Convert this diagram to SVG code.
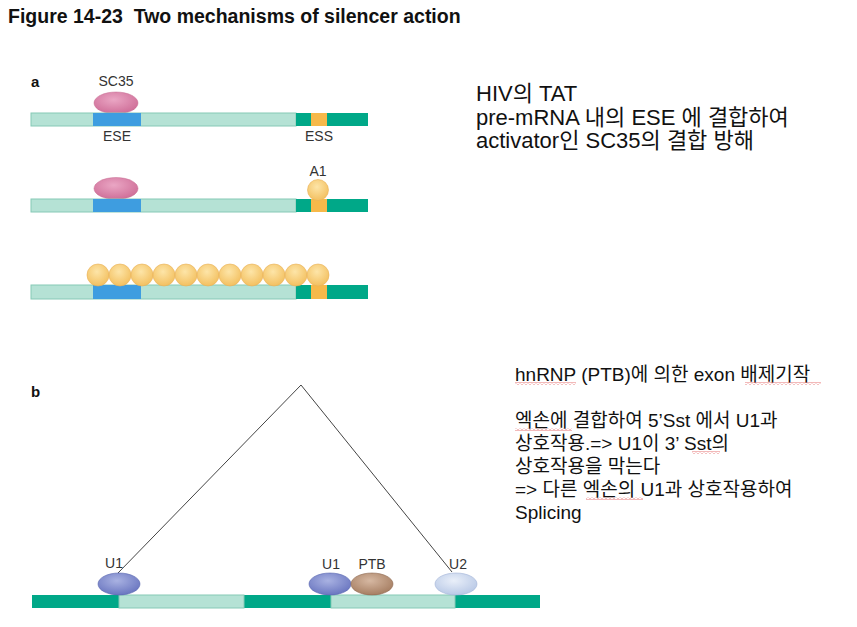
<svg xmlns="http://www.w3.org/2000/svg" width="857" height="627" viewBox="0 0 857 627">
<style>
.lbl{font-family:"Liberation Sans",Arial,sans-serif;font-size:14px;fill:#333;text-anchor:middle}
.pl{font-family:"Liberation Sans",Arial,sans-serif;font-size:15px;font-weight:bold;fill:#111}
.note{font-family:"Liberation Sans","Noto Sans CJK KR",sans-serif;font-size:22px;fill:#111}
.noteb{font-family:"Liberation Sans","Noto Sans CJK KR",sans-serif;font-size:19px;fill:#111}
.lt{fill:#b5e2d5;stroke:#86c9b6;stroke-width:1}
.dk{fill:#00a888}
.bl{fill:#3e9de0}
.or{fill:#f6b94a}
.line{stroke:#444;stroke-width:1;fill:none}
</style>
<defs>
<radialGradient id="gPink" cx="45%" cy="35%" r="65%"><stop offset="0" stop-color="#eaa6c4"/><stop offset="1" stop-color="#cf6e98"/></radialGradient>
<radialGradient id="gYel" cx="45%" cy="35%" r="65%"><stop offset="0" stop-color="#fde5a8"/><stop offset="1" stop-color="#f3c060"/></radialGradient>
<radialGradient id="gU1" cx="45%" cy="35%" r="65%"><stop offset="0" stop-color="#a9b2e2"/><stop offset="1" stop-color="#6a76c0"/></radialGradient>
<radialGradient id="gPTB" cx="45%" cy="35%" r="65%"><stop offset="0" stop-color="#d6b8a2"/><stop offset="1" stop-color="#a67e62"/></radialGradient>
<radialGradient id="gU2" cx="45%" cy="35%" r="65%"><stop offset="0" stop-color="#e9eff9"/><stop offset="1" stop-color="#b9c9e6"/></radialGradient>
<pattern id="wavy" width="4" height="3" patternUnits="userSpaceOnUse"><polyline points="0,2.5 2,0.5 4,2.5" fill="none" stroke="#e05050" stroke-width="0.8"/></pattern>
</defs>
<rect width="857" height="627" fill="#ffffff"/>
<text x="8" y="23" xml:space="preserve" style="font-family:'Liberation Sans',Arial,sans-serif;font-size:19.5px;font-weight:bold;fill:#111">Figure 14-23  Two mechanisms of silencer action</text>

<text class="pl" x="31" y="87">a</text>

<g id="a-row1">
<ellipse cx="116" cy="103" rx="22" ry="11" fill="url(#gPink)" stroke="#c66a90" stroke-width="0.5"/>
<rect class="lt" x="31" y="113" width="265" height="13"/>
<rect class="bl" x="93" y="113" width="48" height="13"/>
<rect class="dk" x="296" y="113" width="72" height="13"/>
<rect class="or" x="311" y="113" width="16" height="13"/>
<text class="lbl" x="116" y="86">SC35</text>
<text class="lbl" x="117" y="141">ESE</text>
<text class="lbl" x="319" y="141">ESS</text>
</g>

<g id="a-row2">
<ellipse cx="116" cy="188.5" rx="22" ry="11" fill="url(#gPink)" stroke="#c66a90" stroke-width="0.5"/>
<rect class="lt" x="31" y="199" width="265" height="13"/>
<rect class="bl" x="93" y="199" width="48" height="13"/>
<rect class="dk" x="296" y="199" width="72" height="13"/>
<rect class="or" x="311" y="199" width="16" height="13"/>
<circle cx="318" cy="190" r="10.5" fill="url(#gYel)" stroke="#eab055" stroke-width="0.6"/>
<text class="lbl" x="318" y="176">A1</text>
</g>

<g id="a-row3">
<rect class="lt" x="31" y="285" width="265" height="14"/>
<rect class="bl" x="93" y="285" width="48" height="14"/>
<rect class="dk" x="296" y="285" width="72" height="14"/>
<rect class="or" x="311" y="285" width="16" height="14"/>
<g fill="url(#gYel)" stroke="#eab055" stroke-width="0.6">
<circle cx="98" cy="275" r="11"/><circle cx="120" cy="275" r="11"/><circle cx="142" cy="275" r="11"/><circle cx="164" cy="275" r="11"/><circle cx="186" cy="275" r="11"/><circle cx="208" cy="275" r="11"/><circle cx="230" cy="275" r="11"/><circle cx="252" cy="275" r="11"/><circle cx="274" cy="275" r="11"/><circle cx="296" cy="275" r="11"/><circle cx="318" cy="275" r="11"/>
</g>
</g>

<g id="note-a">
<text class="note" x="476" y="101">HIV의 TAT</text>
<text class="note" x="476" y="124.5">pre-mRNA 내의 ESE 에 결합하여</text>
<text class="note" x="476" y="148">activator인 SC35의 결합 방해</text>
</g>

<text class="pl" x="31" y="397">b</text>

<g id="connectors">
<polyline class="line" points="118,573 301,385 452,572"/>
</g>

<g id="b-bar">
<rect class="dk" x="32" y="595" width="508" height="13"/>
<rect class="lt" x="119" y="595" width="125" height="13"/>
<rect class="lt" x="331" y="595" width="124" height="13"/>
</g>
<g id="U1-left">
<ellipse cx="119" cy="584" rx="21" ry="11" fill="url(#gU1)" stroke="#5b68b0" stroke-width="0.6"/>
<text class="lbl" x="114" y="568">U1</text>
</g>
<g id="U1-mid">
<ellipse cx="330" cy="584" rx="21" ry="11" fill="url(#gU1)" stroke="#5b68b0" stroke-width="0.6"/>
<text class="lbl" x="331" y="569">U1</text>
</g>
<g id="PTB">
<ellipse cx="372" cy="584" rx="21" ry="11" fill="url(#gPTB)" stroke="#8e6a52" stroke-width="0.6"/>
<text class="lbl" x="372" y="569">PTB</text>
</g>
<g id="U2">
<ellipse cx="456" cy="584" rx="21" ry="11" fill="url(#gU2)" stroke="#a2b4d6" stroke-width="0.6"/>
<text class="lbl" x="458" y="569">U2</text>
</g>

<g id="note-b">
<text class="noteb" x="515" y="381">hnRNP (PTB)에 의한 exon 배제기작</text>
<text class="noteb" x="515" y="427">엑손에 결합하여 5’Sst 에서 U1과</text>
<text class="noteb" x="515" y="450">상호작용.=&gt; U1이 3’ Sst의</text>
<text class="noteb" x="515" y="473">상호작용을 막는다</text>
<text class="noteb" x="515" y="496">=&gt; 다른 엑손의 U1과 상호작용하여</text>
<text class="noteb" x="515" y="519">Splicing</text>
<g fill="url(#wavy)">
<rect x="515" y="382" width="61" height="3"/>
<rect x="745" y="382" width="76" height="3"/>
<rect x="515" y="428" width="57" height="3"/>
<rect x="692" y="451" width="28" height="3"/>
<rect x="586" y="497" width="57" height="3"/>
</g>
</g>
</svg>
